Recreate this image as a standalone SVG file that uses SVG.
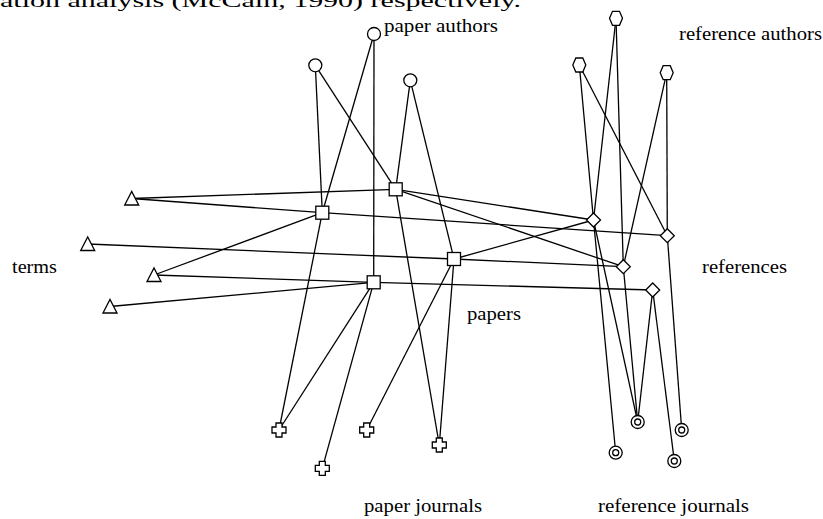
<svg xmlns="http://www.w3.org/2000/svg" width="823" height="519" viewBox="0 0 823 519">
<style>
.e{stroke:#000;stroke-width:1.3;fill:none}
.n{stroke:#000;stroke-width:1.3;fill:#fff}
.t{font-family:"Liberation Serif","Times New Roman",serif;font-size:18px;fill:#000}
</style>
<defs>
<circle id="circ" r="6.5" class="n"/>
<rect id="sq" x="-6.5" y="-6.5" width="13" height="13" class="n"/>
<polygon id="tri" points="-7,6.5 7,6.5 0,-7" class="n"/>
<polygon id="hex" points="-6.5,0 -3.5,-7 3.5,-7 6.5,0 3.5,7 -3.5,7" class="n"/>
<polygon id="dia" points="0,-7 7,0 0,7 -7,0" class="n"/>
<path id="crs" d="M-3,-7 h6 v4 h4 v6 h-4 v4 h-6 v-4 h-4 v-6 h4 z" class="n"/>
<g id="dcirc"><circle r="6.5" class="n"/><circle r="3" class="n"/></g>
</defs>
<text class="t" x="0" y="7.3" textLength="521" lengthAdjust="spacingAndGlyphs">ation analysis (McCain, 1990) respectively.</text>
<g id="connectors">
<line class="e" x1="374" y1="34" x2="322.3" y2="212.7"/>
<line class="e" x1="374" y1="34" x2="373.7" y2="282.3"/>
<line class="e" x1="315.3" y1="65.3" x2="322.3" y2="212.7"/>
<line class="e" x1="315.3" y1="65.3" x2="395.7" y2="189.3"/>
<line class="e" x1="410.3" y1="80.3" x2="395.7" y2="189.3"/>
<line class="e" x1="410.3" y1="80.3" x2="454" y2="259"/>
<line class="e" x1="616" y1="18.3" x2="593.5" y2="220"/>
<line class="e" x1="616" y1="18.3" x2="623.3" y2="266.7"/>
<line class="e" x1="579.3" y1="65" x2="593.5" y2="220"/>
<line class="e" x1="579.3" y1="65" x2="667.3" y2="235.7"/>
<line class="e" x1="666.7" y1="72.7" x2="623.3" y2="266.7"/>
<line class="e" x1="666.7" y1="72.7" x2="667.3" y2="235.7"/>
<line class="e" x1="131.7" y1="198.5" x2="395.7" y2="189.3"/>
<line class="e" x1="131.7" y1="198.5" x2="322.3" y2="212.7"/>
<line class="e" x1="87.7" y1="244" x2="454" y2="259"/>
<line class="e" x1="154" y1="275" x2="322.3" y2="212.7"/>
<line class="e" x1="154" y1="275" x2="373.7" y2="282.3"/>
<line class="e" x1="110" y1="306.5" x2="373.7" y2="282.3"/>
<line class="e" x1="395.7" y1="189.3" x2="593.5" y2="220"/>
<line class="e" x1="395.7" y1="189.3" x2="623.3" y2="266.7"/>
<line class="e" x1="322.3" y1="212.7" x2="667.3" y2="235.7"/>
<line class="e" x1="454" y1="259" x2="593.5" y2="220"/>
<line class="e" x1="454" y1="259" x2="623.3" y2="266.7"/>
<line class="e" x1="373.7" y1="282.3" x2="652.7" y2="290"/>
<line class="e" x1="322.3" y1="212.7" x2="279" y2="430"/>
<line class="e" x1="373.7" y1="282.3" x2="279" y2="430"/>
<line class="e" x1="373.7" y1="282.3" x2="322.3" y2="468.3"/>
<line class="e" x1="454" y1="259" x2="366.7" y2="430"/>
<line class="e" x1="395.7" y1="189.3" x2="439.3" y2="445"/>
<line class="e" x1="454" y1="259" x2="439.3" y2="445"/>
<line class="e" x1="593.5" y1="220" x2="615.7" y2="452.7"/>
<line class="e" x1="593.5" y1="220" x2="637.7" y2="422"/>
<line class="e" x1="623.3" y1="266.7" x2="637.7" y2="422"/>
<line class="e" x1="652.7" y1="290" x2="637.7" y2="422"/>
<line class="e" x1="652.7" y1="290" x2="674.3" y2="461"/>
<line class="e" x1="667.3" y1="235.7" x2="681.7" y2="430"/>
</g>
<g id="paper-authors">
<use href="#circ" x="374" y="34"/>
<use href="#circ" x="315.3" y="65.3"/>
<use href="#circ" x="410.3" y="80.3"/>
</g>
<g id="reference-authors">
<use href="#hex" x="616" y="18.3"/>
<use href="#hex" x="579.3" y="65"/>
<use href="#hex" x="666.7" y="72.7"/>
</g>
<g id="papers">
<use href="#sq" x="395.7" y="189.3"/>
<use href="#sq" x="322.3" y="212.7"/>
<use href="#sq" x="454" y="259"/>
<use href="#sq" x="373.7" y="282.3"/>
</g>
<g id="references">
<use href="#dia" x="593.5" y="220"/>
<use href="#dia" x="667.3" y="235.7"/>
<use href="#dia" x="623.3" y="266.7"/>
<use href="#dia" x="652.7" y="290"/>
</g>
<g id="terms">
<use href="#tri" x="131.7" y="198.5"/>
<use href="#tri" x="87.7" y="244"/>
<use href="#tri" x="154" y="275"/>
<use href="#tri" x="110" y="306.5"/>
</g>
<g id="paper-journals">
<use href="#crs" x="279" y="430"/>
<use href="#crs" x="322.3" y="468.3"/>
<use href="#crs" x="366.7" y="430"/>
<use href="#crs" x="439.3" y="445"/>
</g>
<g id="reference-journals">
<use href="#dcirc" x="637.7" y="422"/>
<use href="#dcirc" x="681.7" y="430"/>
<use href="#dcirc" x="615.7" y="452.7"/>
<use href="#dcirc" x="674.3" y="461"/>
</g>
<g id="labels">
<text class="t" x="384" y="32" textLength="114" lengthAdjust="spacingAndGlyphs">paper authors</text>
<text class="t" x="679" y="39.5" textLength="143" lengthAdjust="spacingAndGlyphs">reference authors</text>
<text class="t" x="12" y="273" textLength="45" lengthAdjust="spacingAndGlyphs">terms</text>
<text class="t" x="702" y="272.5" textLength="85" lengthAdjust="spacingAndGlyphs">references</text>
<text class="t" x="467" y="320" textLength="54" lengthAdjust="spacingAndGlyphs">papers</text>
<text class="t" x="364" y="512" textLength="118" lengthAdjust="spacingAndGlyphs">paper journals</text>
<text class="t" x="598" y="512" textLength="151" lengthAdjust="spacingAndGlyphs">reference journals</text>
</g>
</svg>
